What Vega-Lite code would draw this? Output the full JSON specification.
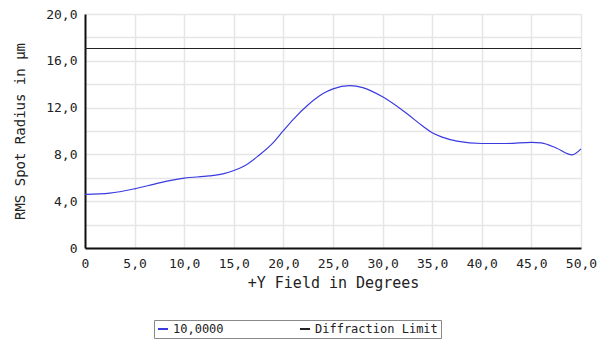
{
  "$schema": "https://vega.github.io/schema/vega-lite/v6.json",
  "width": 496,
  "height": 234,
  "autosize": "none",
  "padding": {"left": 85, "top": 14, "right": 16, "bottom": 94},
  "background": "white",
  "data": {"values": [
    {"x": 0, "y": 4.58, "s": "10,0000"},
    {"x": 2.5, "y": 4.69, "s": "10,0000"},
    {"x": 5, "y": 5.06, "s": "10,0000"},
    {"x": 7.5, "y": 5.57, "s": "10,0000"},
    {"x": 10, "y": 5.97, "s": "10,0000"},
    {"x": 12.5, "y": 6.16, "s": "10,0000"},
    {"x": 14, "y": 6.36, "s": "10,0000"},
    {"x": 15, "y": 6.62, "s": "10,0000"},
    {"x": 16, "y": 6.98, "s": "10,0000"},
    {"x": 17.5, "y": 7.9, "s": "10,0000"},
    {"x": 19, "y": 9.03, "s": "10,0000"},
    {"x": 20, "y": 10.03, "s": "10,0000"},
    {"x": 21, "y": 11.0, "s": "10,0000"},
    {"x": 22.5, "y": 12.24, "s": "10,0000"},
    {"x": 24, "y": 13.2, "s": "10,0000"},
    {"x": 25, "y": 13.6, "s": "10,0000"},
    {"x": 26.7, "y": 13.87, "s": "10,0000"},
    {"x": 28, "y": 13.71, "s": "10,0000"},
    {"x": 30, "y": 12.92, "s": "10,0000"},
    {"x": 32.5, "y": 11.45, "s": "10,0000"},
    {"x": 34, "y": 10.45, "s": "10,0000"},
    {"x": 35, "y": 9.85, "s": "10,0000"},
    {"x": 36, "y": 9.48, "s": "10,0000"},
    {"x": 37.5, "y": 9.14, "s": "10,0000"},
    {"x": 40, "y": 8.93, "s": "10,0000"},
    {"x": 42.5, "y": 8.93, "s": "10,0000"},
    {"x": 45, "y": 9.03, "s": "10,0000"},
    {"x": 46, "y": 8.98, "s": "10,0000"},
    {"x": 47.5, "y": 8.55, "s": "10,0000"},
    {"x": 49.1, "y": 7.96, "s": "10,0000"},
    {"x": 50, "y": 8.47, "s": "10,0000"},
    {"x": 0, "y": 17.05, "s": "Diffraction Limit"},
    {"x": 50, "y": 17.05, "s": "Diffraction Limit"}
  ]},
  "mark": {"type": "line", "interpolate": "monotone", "strokeWidth": 1.2},
  "encoding": {
    "x": {
      "field": "x", "type": "quantitative",
      "scale": {"domain": [0, 50], "nice": false},
      "axis": {
        "values": [0, 5, 10, 15, 20, 25, 30, 35, 40, 45, 50],
        "labelExpr": "datum.value == 0 ? '0' : replace(format(datum.value, '.1f'), '.', ',')",
        "labelFlush": false,
        "labelOverlap": false,
        "title": "+Y Field in Degrees",
        "titleFont": "DejaVu Sans Mono", "titleFontSize": 15, "titleFontWeight": "normal", "titleColor": "#222",
        "titlePadding": 5,
        "labelFont": "DejaVu Sans Mono", "labelFontSize": 13, "labelColor": "#222",
        "labelPadding": 9,
        "ticks": false,
        "domainColor": "#111", "domainWidth": 2,
        "gridColor": "#e6e6e6", "gridWidth": 1.5
      }
    },
    "y": {
      "field": "y", "type": "quantitative",
      "scale": {"domain": [0, 20], "nice": false},
      "axis": {
        "values": [0, 2, 4, 6, 8, 10, 12, 14, 16, 18, 20],
        "labelExpr": "datum.value % 4 != 0 ? '' : (datum.value == 0 ? '0' : replace(format(datum.value, '.1f'), '.', ','))",
        "title": "RMS Spot Radius in µm",
        "titleFont": "DejaVu Sans Mono", "titleFontSize": 14, "titleFontWeight": "normal", "titleColor": "#222",
        "titlePadding": 18,
        "labelFont": "DejaVu Sans Mono", "labelFontSize": 13, "labelColor": "#222",
        "labelPadding": 8,
        "ticks": false,
        "domainColor": "#111", "domainWidth": 2,
        "gridColor": "#e6e6e6", "gridWidth": 1.5
      }
    },
    "color": {
      "field": "s", "type": "nominal",
      "scale": {"domain": ["10,0000", "Diffraction Limit"], "range": ["#3a3ae0", "#222222"]},
      "legend": {
        "title": null,
        "orient": "none",
        "legendX": 69,
        "legendY": 306,
        "direction": "horizontal",
        "symbolType": "stroke",
        "symbolSize": 100,
        "symbolStrokeWidth": 2,
        "labelFont": "DejaVu Sans Mono",
        "labelFontSize": 12,
        "labelColor": "#222",
        "columnPadding": 72,
        "strokeColor": "#888",
        "padding": 3
      }
    }
  },
  "config": {"view": {"stroke": null}}
}
